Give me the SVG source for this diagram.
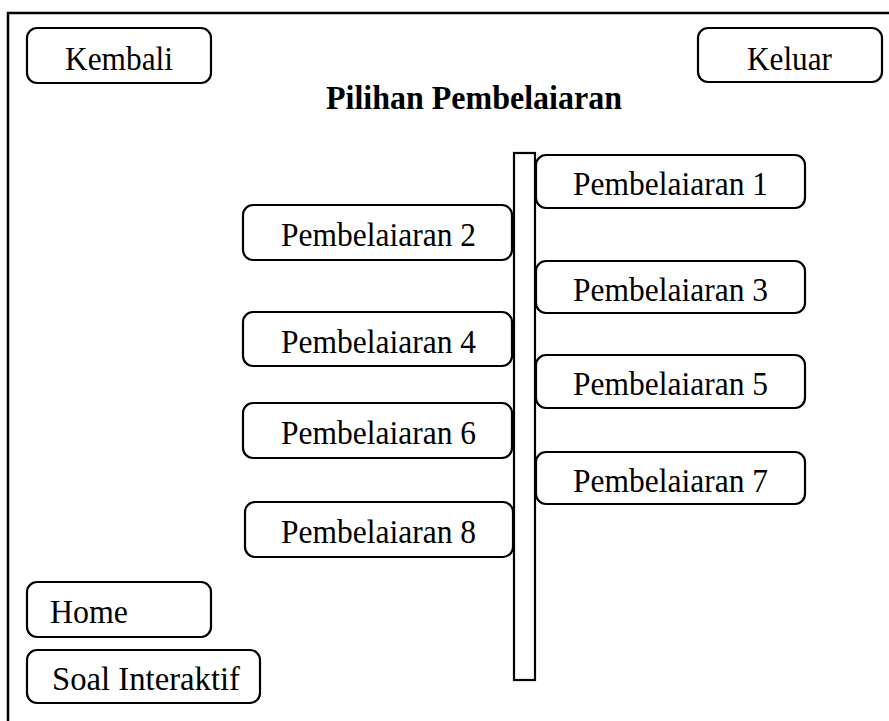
<svg xmlns="http://www.w3.org/2000/svg" width="889" height="721" viewBox="0 0 889 721">
  <style>
    .box { fill: #ffffff; stroke: #000000; stroke-width: 2.2; }
    .bar { fill: #ffffff; stroke: #000000; stroke-width: 2.2; }
    .frame { fill: none; stroke: #000000; stroke-width: 2.5; }
    .lbl { font-family: "Liberation Serif", "Times New Roman", serif; font-size: 34px; fill: #000000; }
    .title { font-family: "Liberation Serif", "Times New Roman", serif; font-size: 33px; font-weight: bold; fill: #000000; }
  </style>

  <rect x="0" y="0" width="889" height="721" fill="#ffffff"/>

  <!-- window frame: top and left edges -->
  <g id="frame">
    <path class="frame" d="M8,721 V13 H889"/>
  </g>

  <g id="btn-kembali">
    <rect class="box" x="27" y="28" width="184" height="55" rx="10"/>
    <text class="lbl" x="65" y="70" textLength="108" lengthAdjust="spacingAndGlyphs">Kembali</text>
  </g>

  <g id="btn-keluar">
    <rect class="box" x="698" y="28" width="184" height="54" rx="10"/>
    <text class="lbl" x="747" y="70" textLength="85" lengthAdjust="spacingAndGlyphs">Keluar</text>
  </g>

  <g id="title">
    <text class="title" x="326" y="109" textLength="296" lengthAdjust="spacingAndGlyphs">Pilihan Pembelaiaran</text>
  </g>

  <!-- vertical rail the lessons hang from -->
  <g id="connectors">
    <rect class="bar" x="514" y="153" width="21" height="527"/>
  </g>

  <g id="lesson-1">
    <rect class="box" x="536" y="155" width="269" height="53" rx="10"/>
    <text class="lbl" x="573" y="195" textLength="195" lengthAdjust="spacingAndGlyphs">Pembelaiaran 1</text>
  </g>
  <g id="lesson-2">
    <rect class="box" x="243" y="205" width="269" height="55" rx="10"/>
    <text class="lbl" x="281" y="246" textLength="195" lengthAdjust="spacingAndGlyphs">Pembelaiaran 2</text>
  </g>
  <g id="lesson-3">
    <rect class="box" x="536" y="261" width="269" height="52" rx="10"/>
    <text class="lbl" x="573" y="301" textLength="195" lengthAdjust="spacingAndGlyphs">Pembelaiaran 3</text>
  </g>
  <g id="lesson-4">
    <rect class="box" x="243" y="312" width="269" height="54" rx="10"/>
    <text class="lbl" x="281" y="353" textLength="195" lengthAdjust="spacingAndGlyphs">Pembelaiaran 4</text>
  </g>
  <g id="lesson-5">
    <rect class="box" x="536" y="355" width="269" height="53" rx="10"/>
    <text class="lbl" x="573" y="395" textLength="195" lengthAdjust="spacingAndGlyphs">Pembelaiaran 5</text>
  </g>
  <g id="lesson-6">
    <rect class="box" x="243" y="403" width="269" height="55" rx="10"/>
    <text class="lbl" x="281" y="444" textLength="195" lengthAdjust="spacingAndGlyphs">Pembelaiaran 6</text>
  </g>
  <g id="lesson-7">
    <rect class="box" x="536" y="452" width="269" height="52" rx="10"/>
    <text class="lbl" x="573" y="492" textLength="195" lengthAdjust="spacingAndGlyphs">Pembelaiaran 7</text>
  </g>
  <g id="lesson-8">
    <rect class="box" x="245" y="502" width="268" height="55" rx="10"/>
    <text class="lbl" x="281" y="543" textLength="195" lengthAdjust="spacingAndGlyphs">Pembelaiaran 8</text>
  </g>

  <g id="btn-home">
    <rect class="box" x="27" y="582" width="184" height="55" rx="10"/>
    <text class="lbl" x="50" y="623" textLength="78" lengthAdjust="spacingAndGlyphs">Home</text>
  </g>

  <g id="btn-soal">
    <rect class="box" x="27" y="650" width="233" height="53" rx="10"/>
    <text class="lbl" x="52" y="690" textLength="188" lengthAdjust="spacingAndGlyphs">Soal Interaktif</text>
  </g>
</svg>
